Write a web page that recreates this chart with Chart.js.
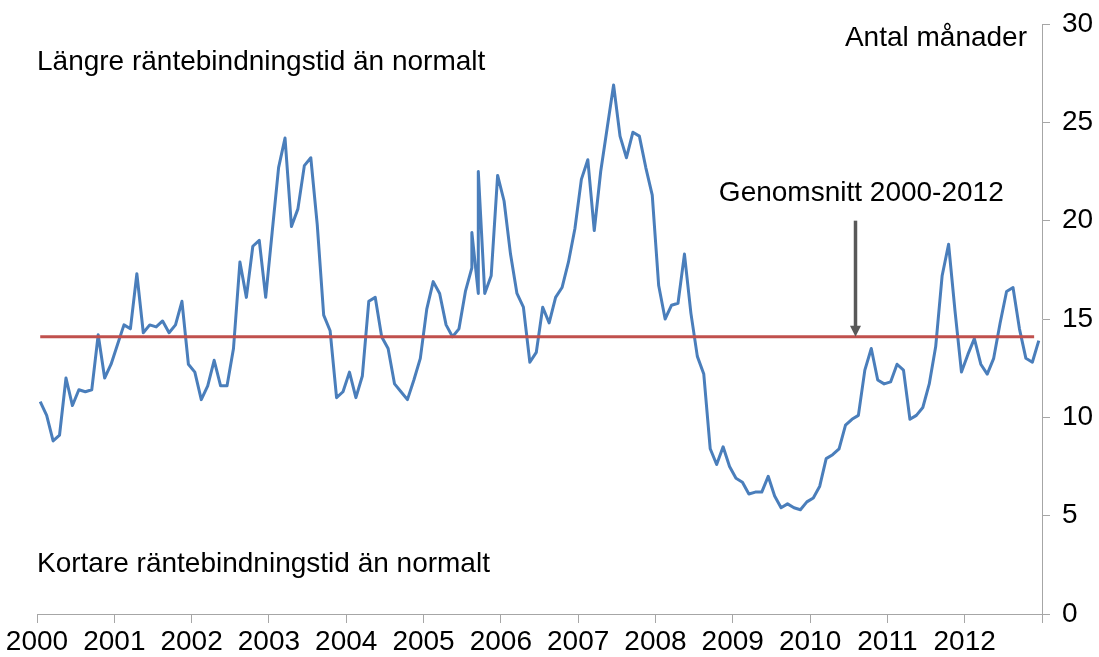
<!DOCTYPE html>
<html lang="sv">
<head>
    <meta charset="UTF-8">
    <title>Räntebindningstid</title>
    <script src="https://cdn.jsdelivr.net/npm/chart.js"></script>
    <style>
        * {
            margin: 0;
            padding: 0;
            box-sizing: border-box;
        }

        body {
            background: white;
            width: 1099px;
            height: 657px;
            overflow: hidden;
        }

        canvas {
            display: block;
        }
    </style>
</head>
<body>
    <canvas id="lineChart" width="1099" height="657"></canvas>

    <script>
        // months of the observations (Aug and Sep 2005 have two readings each)
        const dates = [
            '2000-01','2000-02','2000-03','2000-04','2000-05','2000-06','2000-07','2000-08','2000-09','2000-10','2000-11','2000-12',
            '2001-01','2001-02','2001-03','2001-04','2001-05','2001-06','2001-07','2001-08','2001-09','2001-10','2001-11','2001-12',
            '2002-01','2002-02','2002-03','2002-04','2002-05','2002-06','2002-07','2002-08','2002-09','2002-10','2002-11','2002-12',
            '2003-01','2003-02','2003-03','2003-04','2003-05','2003-06','2003-07','2003-08','2003-09','2003-10','2003-11','2003-12',
            '2004-01','2004-02','2004-03','2004-04','2004-05','2004-06','2004-07','2004-08','2004-09','2004-10','2004-11','2004-12',
            '2005-01','2005-02','2005-03','2005-04','2005-05','2005-06','2005-07','2005-08','2005-08','2005-09','2005-09','2005-10','2005-11','2005-12',
            '2006-01','2006-02','2006-03','2006-04','2006-05','2006-06','2006-07','2006-08','2006-09','2006-10','2006-11','2006-12',
            '2007-01','2007-02','2007-03','2007-04','2007-05','2007-06','2007-07','2007-08','2007-09','2007-10','2007-11','2007-12',
            '2008-01','2008-02','2008-03','2008-04','2008-05','2008-06','2008-07','2008-08','2008-09','2008-10','2008-11','2008-12',
            '2009-01','2009-02','2009-03','2009-04','2009-05','2009-06','2009-07','2009-08','2009-09','2009-10','2009-11','2009-12',
            '2010-01','2010-02','2010-03','2010-04','2010-05','2010-06','2010-07','2010-08','2010-09','2010-10','2010-11','2010-12',
            '2011-01','2011-02','2011-03','2011-04','2011-05','2011-06','2011-07','2011-08','2011-09','2011-10','2011-11','2011-12',
            '2012-01','2012-02','2012-03','2012-04','2012-05','2012-06','2012-07','2012-08','2012-09','2012-10','2012-11','2012-12'
        ];

        // antal månader
        const months = [
            10.8, 10.1, 8.8, 9.1, 12.0, 10.6, 11.4, 11.3, 11.4, 14.2, 12.0, 12.7,
            13.7, 14.7, 14.5, 17.3, 14.3, 14.7, 14.6, 14.9, 14.3, 14.7, 15.9, 12.7,
            12.3, 10.9, 11.6, 12.9, 11.6, 11.6, 13.5, 17.9, 16.1, 18.7, 19.0, 16.1,
            19.4, 22.7, 24.2, 19.7, 20.6, 22.8, 23.2, 19.8, 15.2, 14.4, 11.0, 11.3,
            12.3, 11.0, 12.1, 15.9, 16.1, 14.1, 13.5, 11.7, 11.3, 10.9, 11.9, 13.0,
            15.5, 16.9, 16.3, 14.7, 14.1, 14.5, 16.4, 17.6, 19.4, 16.3, 22.5, 16.3, 17.2, 22.3,
            21.0, 18.3, 16.3, 15.6, 12.8, 13.3, 15.6, 14.8, 16.1, 16.6, 17.9, 19.6,
            22.1, 23.1, 19.5, 22.5, 24.7, 26.9, 24.3, 23.2, 24.5, 24.3, 22.7, 21.3,
            16.7, 15.0, 15.7, 15.8, 18.3, 15.3, 13.1, 12.2, 8.4, 7.6, 8.5, 7.5,
            6.9, 6.7, 6.1, 6.2, 6.2, 7.0, 6.0, 5.4, 5.6, 5.4, 5.3, 5.7,
            5.9, 6.5, 7.9, 8.1, 8.4, 9.6, 9.9, 10.1, 12.4, 13.5, 11.9, 11.7,
            11.8, 12.7, 12.4, 9.9, 10.1, 10.5, 11.7, 13.6, 17.2, 18.8, 15.4, 12.3,
            13.2, 14.0, 12.7, 12.2, 13.0, 14.8, 16.4, 16.6, 14.5, 13.0, 12.8, 13.9
        ];

        const average = 14.1; // genomsnitt 2000-2012
        const yearLabels = ['2000','2001','2002','2003','2004','2005','2006','2007','2008','2009','2010','2011','2012'];
        const yTicks = [0, 5, 10, 15, 20, 25, 30];

        const noteHigh = 'Längre räntebindningstid än normalt';
        const noteLow = 'Kortare räntebindningstid än normalt';
        const unitText = 'Antal månader';
        const avgText = 'Genomsnitt 2000-2012';

        const FONT = '"Liberation Sans", Arial, sans-serif';
        const AXIS_GREY = '#a6a6a6';

        // plotted in the middle of each month
        function toYear(d) {
            const [yr, mo] = d.split('-').map(Number);
            return yr + (mo - 0.5) / 12;
        }

        const seriesPoints = dates.map((d, i) => ({ x: toYear(d), y: months[i] }));
        const avgPoints = [
            { x: toYear(dates[0]), y: average },
            { x: toYear(dates[dates.length - 1]) - 0.06, y: average }
        ];

        const notesPlugin = {
            id: 'notes',
            afterDatasetsDraw(chart) {
                const { ctx, scales: { x, y } } = chart;
                ctx.save();
                ctx.fillStyle = '#000';
                ctx.font = '28px ' + FONT;
                ctx.textBaseline = 'alphabetic';

                ctx.textAlign = 'left';
                ctx.fillText(noteHigh, x.left, y.getPixelForValue(27.65));
                ctx.fillText(noteLow, x.left, y.getPixelForValue(2.15));
                ctx.fillText(avgText, x.getPixelForValue(2008.82), y.getPixelForValue(21.0));

                ctx.textAlign = 'right';
                ctx.fillText(unitText, x.right - 15, y.getPixelForValue(28.9));

                // arrow pointing at the average line
                const ax = Math.round(x.getPixelForValue(2010.58)) + 0.5;
                const top = y.getPixelForValue(20.0);
                const tip = y.getPixelForValue(average);
                ctx.strokeStyle = '#595959';
                ctx.fillStyle = '#595959';
                ctx.lineWidth = 3.5;
                ctx.beginPath();
                ctx.moveTo(ax, top);
                ctx.lineTo(ax, tip - 9);
                ctx.stroke();
                ctx.beginPath();
                ctx.moveTo(ax - 5.5, tip - 11);
                ctx.lineTo(ax + 5.5, tip - 11);
                ctx.lineTo(ax, tip);
                ctx.closePath();
                ctx.fill();
                ctx.restore();
            }
        };

        const ctx = document.getElementById('lineChart').getContext('2d');

        new Chart(ctx, {
            type: 'line',
            data: {
                datasets: [
                    {
                        label: 'Genomsnitt',
                        data: avgPoints,
                        borderColor: '#c0504d',
                        borderWidth: 3,
                        pointRadius: 0
                    },
                    {
                        label: 'Räntebindningstid',
                        data: seriesPoints,
                        borderColor: '#4a7ebb',
                        borderWidth: 3,
                        pointRadius: 0,
                        tension: 0,
                        borderJoinStyle: 'round'
                    }
                ]
            },
            options: {
                responsive: false,
                animation: false,
                layout: { padding: { top: 24, left: 37, right: 0, bottom: 0 } },
                plugins: {
                    legend: { display: false },
                    tooltip: { enabled: false }
                },
                scales: {
                    x: {
                        type: 'linear',
                        min: 2000,
                        max: 2013,
                        afterBuildTicks: axis => {
                            axis.ticks = yearLabels.map(Number).concat([2013]).map(v => ({ value: v }));
                        },
                        afterFit: axis => {
                            axis.height = 43;
                            axis.paddingLeft = 0;
                            axis.paddingRight = 0;
                        },
                        ticks: {
                            autoSkip: false,
                            maxRotation: 0,
                            padding: 2,
                            color: '#000',
                            font: { size: 28, family: FONT },
                            callback: v => yearLabels.includes(String(v)) ? String(v) : ''
                        },
                        grid: { drawOnChartArea: false, tickLength: 9, color: AXIS_GREY },
                        border: { color: AXIS_GREY }
                    },
                    y: {
                        position: 'right',
                        min: 0,
                        max: 30,
                        afterBuildTicks: axis => {
                            axis.ticks = yTicks.map(v => ({ value: v }));
                        },
                        afterFit: axis => {
                            axis.width = 57;
                            axis.paddingTop = 0;
                            axis.paddingBottom = 0;
                        },
                        ticks: {
                            crossAlign: 'near',
                            padding: 12,
                            color: '#000',
                            font: { size: 28, family: FONT }
                        },
                        grid: { drawOnChartArea: false, tickLength: 8, color: AXIS_GREY },
                        border: { color: AXIS_GREY }
                    }
                }
            },
            plugins: [notesPlugin]
        });
    </script>
</body>
</html>
